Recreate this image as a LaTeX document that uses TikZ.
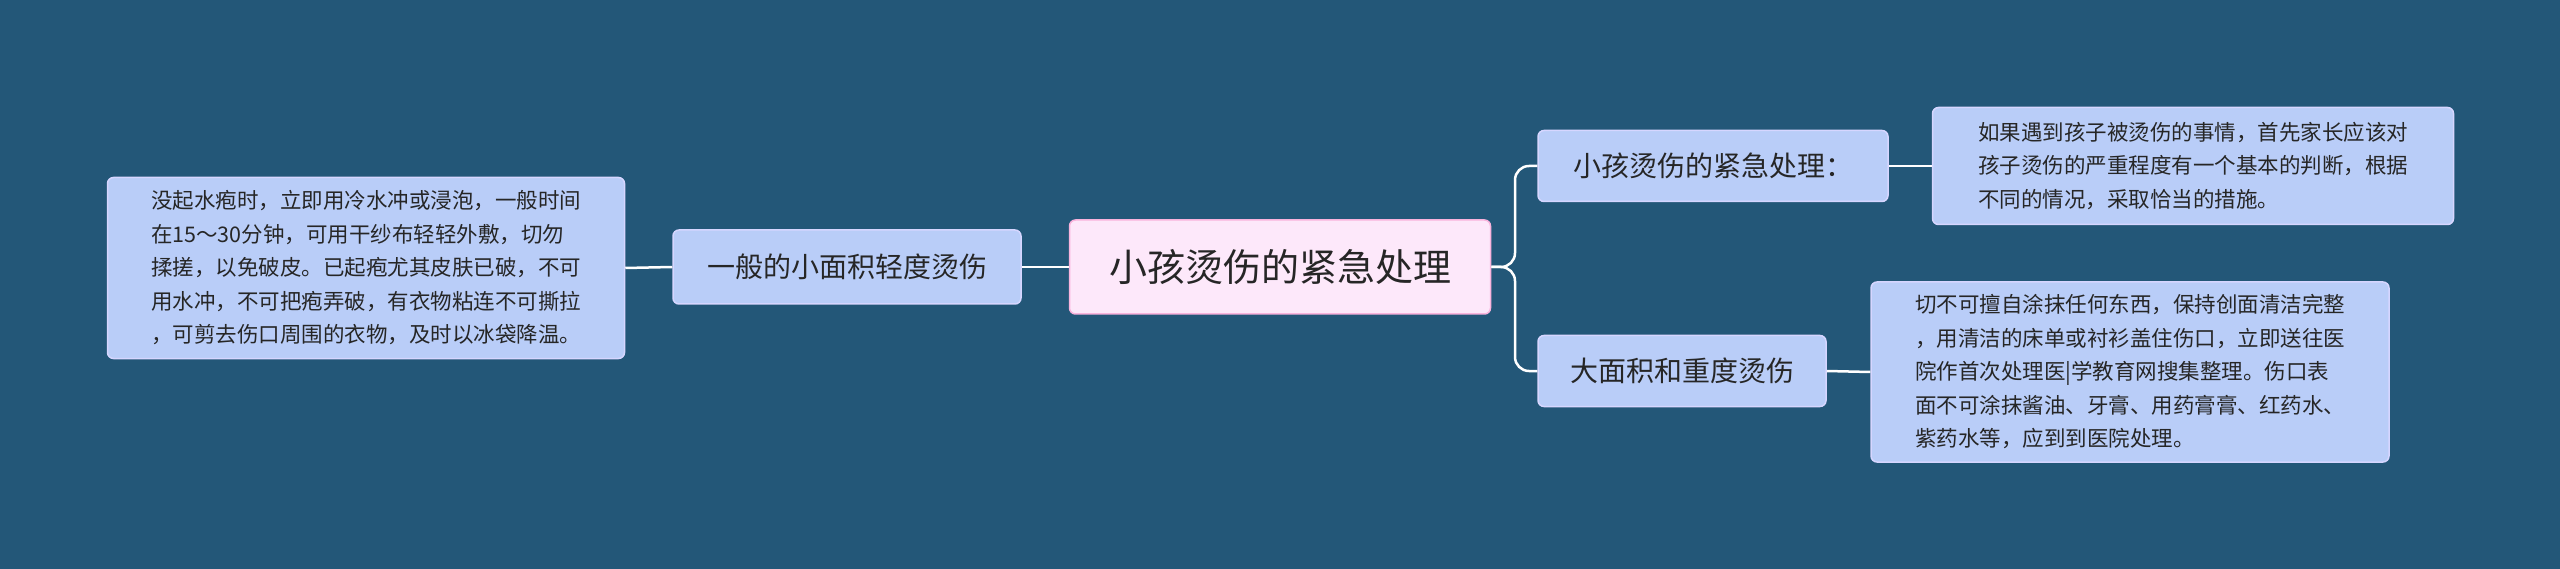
\documentclass[tikz,border=0pt]{standalone}
\usepackage{fontspec}
\setmainfont{Noto Sans CJK SC}
\begin{document}
\begin{tikzpicture}[x=1pt,y=-1pt,
  box/.style={draw=#1,line width=1.5pt,rounded corners=6pt,inner sep=0pt,text=black!85},
  mid/.style={box=white!60!blue!40,fill={rgb,255:red,185;green,205;blue,248},font=\fontsize{28}{34}\selectfont,anchor=center},
  leaf/.style={box=white!60!blue!40,fill={rgb,255:red,185;green,205;blue,248},font=\fontsize{21.5}{33.5}\selectfont,align=left,anchor=center},
  link/.style={draw=white,line width=2.5pt,rounded corners=14pt}]
\fill[fill={rgb,255:red,35;green,87;blue,120}] (0,0) rectangle (2560,569);
\useasboundingbox (0,0) rectangle (2560,569);
\node[box=white!70!magenta,fill={rgb,255:red,253;green,232;blue,250},minimum width=421pt,minimum height=94pt,font=\fontsize{38}{44}\selectfont] (c) at (1280,267) {小孩烫伤的紧急处理};
\node[mid,minimum width=348pt,minimum height=74pt] (l) at (847,267) {一般的小面积轻度烫伤};
\node[leaf,minimum width=517pt,minimum height=181pt] (ll) at (366,268) {没起水疱时，立即用冷水冲或浸泡，一般时间\\在15～30分钟，可用干纱布轻轻外敷，切勿\\揉搓，以免破皮。已起疱尤其皮肤已破，不可\\用水冲，不可把疱弄破，有衣物粘连不可撕拉\\，可剪去伤口周围的衣物，及时以冰袋降温。};
\node[mid,minimum width=350pt,minimum height=71pt] (r1) at (1713,166) {小孩烫伤的紧急处理：};
\node[leaf,minimum width=521pt,minimum height=117pt] (r1l) at (2193,166) {如果遇到孩子被烫伤的事情，首先家长应该对\\孩子烫伤的严重程度有一个基本的判断，根据\\不同的情况，采取恰当的措施。};
\node[mid,minimum width=288pt,minimum height=71pt] (r2) at (1682,371) {大面积和重度烫伤};
\node[leaf,minimum width=518pt,minimum height=180pt] (r2l) at (2130,372) {切不可擅自涂抹任何东西，保持创面清洁完整\\，用清洁的床单或衬衫盖住伤口，立即送往医\\院作首次处理医|学教育网搜集整理。伤口表\\面不可涂抹酱油、牙膏、用药膏膏、红药水、\\紫药水等，应到到医院处理。};
\draw[link] (c.east) -- (1515,267) |- (r1.west);
\draw[link] (c.east) -- (1515,267) |- (r2.west);
\draw[link] (c.west) -- (l.east);
\draw[link] (l.west) -- (ll.east);
\draw[link] (r1.east) -- (r1l.west);
\draw[link] (r2.east) -- (r2l.west);
\end{tikzpicture}
\end{document}
